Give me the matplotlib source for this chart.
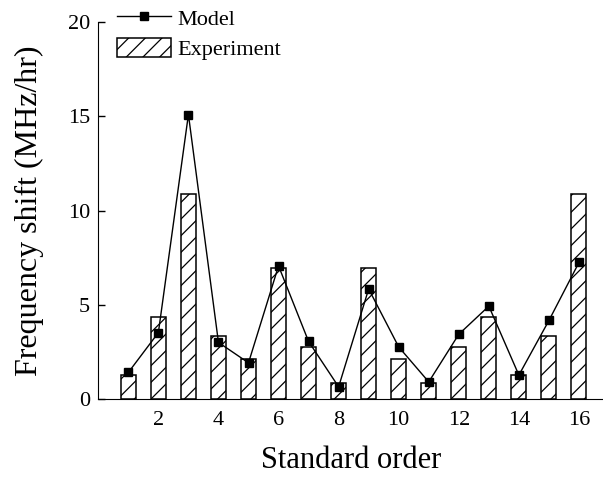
import numpy as np
import matplotlib
matplotlib.use('Agg')
import matplotlib.pyplot as plt

plt.rcParams['font.family'] = 'Liberation Serif'
plt.rcParams['hatch.linewidth'] = 0.9

# Datos
orden = np.arange(1, 17)
experimento = [1.32, 4.34, 10.85, 3.35, 2.13, 6.96, 2.78, 0.85,
               6.96, 2.13, 0.85, 2.78, 4.34, 1.32, 3.35, 10.85]
modelo = [1.43, 3.54, 15.08, 3.02, 1.94, 7.07, 3.07, 0.67,
          5.85, 2.78, 0.93, 3.45, 4.94, 1.29, 4.18, 7.25]

fig = plt.figure(figsize=(6.03, 4.79), dpi=100)
ax = fig.add_axes([0.163, 0.166, 0.837, 0.789])

# Barras del experimento
ax.bar(orden, experimento, width=0.5, color='white', edgecolor='black',
       linewidth=1.1, hatch='//', label='Experiment', zorder=2)

# Linea del modelo
ax.plot(orden, modelo, color='black', linewidth=1.0, marker='s',
        markersize=5.5, label='Model', zorder=3)

ax.set_xlim(0, 16.8)
ax.set_ylim(0, 20)
ax.set_xticks(range(2, 17, 2))
ax.set_yticks(range(0, 21, 5))

ax.spines['top'].set_visible(False)
ax.spines['right'].set_visible(False)
ax.tick_params(direction='in', length=5, width=1, labelsize=16)
ax.tick_params(axis='x', pad=8)
ax.tick_params(axis='y', pad=6)

ax.set_xlabel('Standard order', fontsize=22, labelpad=12)
ax.set_ylabel('Frequency shift (MHz/hr)', fontsize=23, labelpad=17)

# Leyenda arriba a la izquierda
ax.legend(loc='upper left', bbox_to_anchor=(0.02, 1.06),
          frameon=False, fontsize=16, handlelength=2.4, handleheight=0.95,
          handletextpad=0.3, labelspacing=0.35, borderaxespad=0)

plt.savefig('out.png', dpi=100)
